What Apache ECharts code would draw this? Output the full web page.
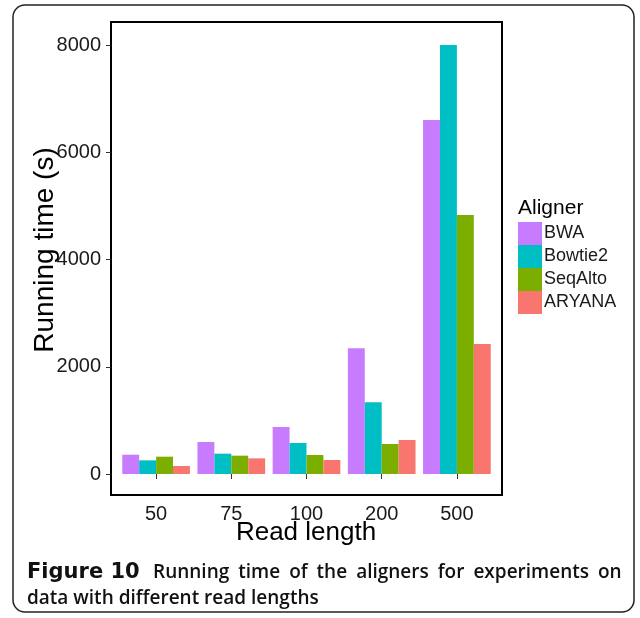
<!DOCTYPE html>
<html>
<head>
<meta charset="utf-8">
<script src="https://cdn.jsdelivr.net/npm/echarts@6/dist/echarts.min.js"></script>
<style>html,body{margin:0;padding:0;background:#fff}#c{width:640px;height:618px}</style>
</head>
<body>
<div id="c"></div>
<script>
const categories = ['50', '75', '100', '200', '500'];
const seriesNames = ['BWA', 'Bowtie2', 'SeqAlto', 'ARYANA'];
const bwa = [360, 597, 876, 2343, 6600];
const bowtie2 = [255, 379, 578, 1337, 8050];
const seqalto = [323, 342, 354, 559, 4830];
const aryana = [149, 292, 261, 634, 2424];
const yTicks = [0, 2000, 4000, 6000, 8000];
const colors = ['#C77CFF', '#00BFC4', '#7CAE00', '#F8766D'];
const values = [bwa, bowtie2, seqalto, aryana];
const captionBold = 'Figure 10';
const captionLine1 = 'Running time of the aligners for experiments on';
const captionLine2 = 'data with different read lengths';

const chart = echarts.init(document.getElementById('c'), null, {renderer: 'canvas'});
const F = 'Liberation Sans, Arial, Helvetica, sans-serif';
const line1Rich = '{b|' + captionBold + '}{g| }' + captionLine1.split(' ').map(w => '{n|' + w + '}').join('{s| }');
chart.setOption({
  animation: false,
  backgroundColor: '#fff',
  color: colors,
  grid: [
    {left: 111, top: 22, width: 391, height: 473, show: true, borderColor: '#000', borderWidth: 2, backgroundColor: 'transparent'},
    {left: 118.5, top: 45, width: 376, height: 429}
  ],
  xAxis: [
    {gridIndex: 0, type: 'value', show: false, min: 0, max: 1},
    {gridIndex: 1, type: 'category', data: categories, offset: 21,
     axisLine: {show: false}, axisTick: {show: true, length: 5, alignWithLabel: true, lineStyle: {color: '#333', width: 1}},
     axisLabel: {fontFamily: F, fontSize: 20, color: '#1a1a1a', margin: 9}}
  ],
  yAxis: [
    {gridIndex: 0, type: 'value', show: false, min: 0, max: 1},
    {gridIndex: 1, type: 'value', min: 0, max: 8000, interval: 2000, offset: 7.5,
     splitLine: {show: false}, axisLine: {show: false},
     axisTick: {show: true, length: 5, lineStyle: {color: '#333', width: 1}},
     axisLabel: {fontFamily: F, fontSize: 20, color: '#1a1a1a', margin: 10,
       formatter: v => yTicks.includes(v) ? String(v) : ''}}
  ],
  legend: {
    orient: 'vertical', left: 518, top: 222, itemWidth: 24, itemHeight: 23, itemGap: 0, padding: 0,
    icon: 'rect', data: seriesNames,
    textStyle: {fontFamily: F, fontSize: 18, color: '#1a1a1a', padding: [0, 0, 0, -3]}
  },
  series: seriesNames.map((n, i) => ({
    name: n, type: 'bar', xAxisIndex: 1, yAxisIndex: 1, data: values[i],
    barGap: '0%', barCategoryGap: '10%', itemStyle: {color: colors[i]}
  })),
  graphic: [
    {type: 'rect', shape: {x: 13, y: 5, width: 621, height: 607, r: 12}, style: {fill: 'none', stroke: '#222', lineWidth: 1.5}, silent: true},
    {type: 'text', x: 306, y: 533, style: {text: 'Read length', font: '26px ' + F, fill: '#000', textAlign: 'center', textVerticalAlign: 'middle'}},
    {type: 'text', x: 45, y: 250, rotation: Math.PI / 2, style: {text: 'Running time (s)', font: '28px ' + F, fill: '#000', textAlign: 'center', textVerticalAlign: 'middle'}},
    {type: 'text', x: 518, y: 208, style: {text: 'Aligner', font: '21px ' + F, fill: '#000', textAlign: 'left', textVerticalAlign: 'middle'}},
    {type: 'text', x: 27, y: 573, style: {
      text: line1Rich,
      textVerticalAlign: 'middle',
      rich: {
        b: {font: 'bold 21px "DejaVu Sans"', fill: '#111', width: 120},
        g: {font: '600 19px "Open Sans"', width: 6},
        n: {font: '600 19px "Open Sans"', fill: '#111'},
        s: {font: '600 19px "Open Sans"', width: 9}
      }}},
    {type: 'text', x: 27, y: 599, style: {
      text: '{n|' + captionLine2 + '}', textVerticalAlign: 'middle',
      rich: {n: {font: '600 19px "Open Sans"', fill: '#111'}}}}
  ]
});
</script>
</body>
</html>
